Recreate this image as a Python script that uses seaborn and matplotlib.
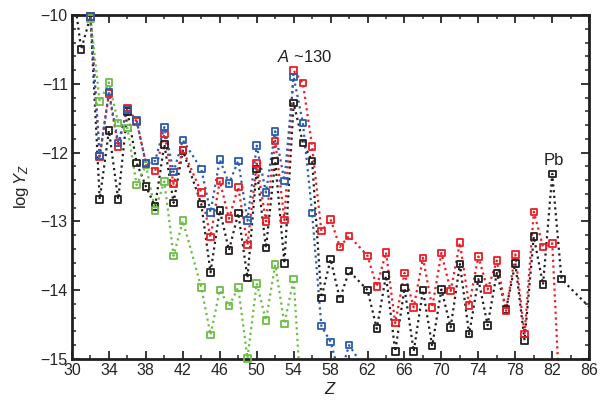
import numpy as np
import pandas as pd
import matplotlib
matplotlib.use("Agg")
import matplotlib.pyplot as plt
import seaborn as sns
from matplotlib.ticker import MultipleLocator

# ===== DONNEES =====
# Z = 43 (Tc) et Z = 61 (Pm) n'ont pas de point
z_black = [30, 31, 32, 33, 34, 35, 36, 37, 38, 39, 40, 41, 42, 44, 45, 46, 47, 48, 49, 50,
           51, 52, 53, 54, 55, 56, 57, 58, 59, 60, 62, 63, 64, 65, 66, 67, 68, 69, 70, 71,
           72, 73, 74, 75, 76, 77, 78, 79, 80, 81, 82, 83, 90]
y_black = [-9.5, -10.5, -10.02, -12.68, -11.68, -12.68, -11.40, -12.15, -12.49, -12.78,
           -11.88, -12.73, -11.97, -12.75, -13.74, -12.84, -13.42, -12.88, -13.82, -12.24,
           -13.39, -12.12, -13.61, -11.28, -11.86, -12.12, -14.11, -13.55, -14.13, -13.72,
           -14.00, -14.56, -13.79, -14.89, -13.97, -14.89, -14.00, -14.81, -13.99, -14.54,
           -13.62, -14.64, -13.84, -14.51, -13.75, -14.28, -13.61, -14.73, -13.22, -13.92,
           -12.31, -13.84, -14.78]

z_red = [32, 33, 34, 35, 36, 37, 38, 39, 40, 41, 42, 44, 45, 46, 47, 48, 49, 50, 51, 52,
         53, 54, 55, 56, 57, 58, 59, 60, 62, 63, 64, 65, 66, 67, 68, 69, 70, 71, 72, 73,
         74, 75, 76, 77, 78, 79, 80, 81, 82, 83]
y_red = [-10.02, -12.06, -11.14, -11.91, -11.35, -11.55, -12.15, -12.27, -11.73, -12.46,
         -11.96, -12.58, -13.23, -12.41, -12.96, -12.50, -13.34, -12.16, -13.00, -11.83,
         -12.98, -10.81, -10.99, -11.91, -13.14, -12.97, -13.37, -13.21, -13.50, -13.95,
         -13.45, -14.48, -13.75, -14.25, -13.53, -14.25, -13.46, -14.01, -13.31, -14.22,
         -13.51, -13.99, -13.57, -14.30, -13.48, -14.64, -12.86, -13.37, -13.32, -16.1]

z_blue = [32, 33, 34, 35, 36, 37, 38, 39, 40, 41, 42, 44, 45, 46, 47, 48, 49, 50, 51, 52,
          53, 54, 55, 56, 57, 58, 59, 60, 62]
y_blue = [-10.02, -12.05, -11.12, -11.86, -11.37, -11.53, -12.16, -12.12, -11.63, -12.28,
          -11.82, -12.24, -12.87, -12.10, -12.45, -12.12, -12.99, -11.90, -12.58, -11.69,
          -12.41, -10.90, -11.57, -12.88, -14.52, -14.75, -15.25, -14.80, -15.2]

z_green = [32, 33, 34, 35, 36, 37, 38, 39, 40, 41, 42, 44, 45, 46, 47, 48, 49, 50, 51, 52,
           53, 54, 55]
y_green = [-10.05, -11.26, -10.98, -11.57, -11.64, -12.47, -12.18, -12.84, -12.42, -13.50,
           -12.99, -13.96, -14.65, -14.00, -14.23, -13.96, -14.99, -13.90, -14.44, -13.63,
           -14.49, -13.84, -16.0]

x_ticks = list(range(30, 87, 4))
y_ticks = [-15, -14, -13, -12, -11, -10]

series = [
    ("black", z_black, y_black, "#231f20"),
    ("green", z_green, y_green, "#6cbd45"),
    ("red", z_red, y_red, "#ed1c24"),
    ("blue", z_blue, y_blue, "#2a5caa"),
]

# ===== STYLE =====
sns.set_style("ticks")
plt.rcParams['font.family'] = ['Liberation Sans', 'DejaVu Sans']
plt.rcParams['mathtext.fontset'] = 'custom'
plt.rcParams['mathtext.rm'] = 'Liberation Sans'
plt.rcParams['mathtext.it'] = 'Liberation Sans:italic'

fig = plt.figure(figsize=(6.0, 4.04), dpi=100)
ax = fig.add_axes([0.12, 0.1114, 0.862, 0.8515])

ymin, ymax = -15, -10
for name, zs, ys, col in series:
    df = pd.DataFrame({"Z": zs, "logY": ys})
    sns.lineplot(data=df, x="Z", y="logY", ax=ax, color=col, linestyle=(0, (1, 1.6)),
                 linewidth=1.6, sort=False, estimator=None)
    # marqueurs seulement dans le cadre, non coupes par les axes
    vis = df[(df["logY"] >= ymin - 0.02) & (df["logY"] <= ymax + 0.05) & (df["Z"] <= 86)]
    sns.scatterplot(data=vis, x="Z", y="logY", ax=ax, marker="s", s=22,
                    facecolor="none", edgecolor=col, linewidth=1.3, zorder=3)
    ax.collections[-1].set_clip_on(False)

ax.set_xlim(30, 86)
ax.set_ylim(ymin, ymax)
ax.set_xticks(x_ticks)
ax.set_yticks(y_ticks)
ax.set_yticklabels([f"\u2212{abs(v)}" for v in y_ticks])
ax.xaxis.set_minor_locator(MultipleLocator(2))
ax.yaxis.set_minor_locator(MultipleLocator(0.2))
ax.tick_params(which="major", direction="in", top=True, right=True, length=6, width=1.3,
               labelsize=11.5, pad=3)
ax.tick_params(which="minor", direction="in", top=True, right=True, length=3, width=1.1)
for sp in ax.spines.values():
    sp.set_linewidth(2)
    sp.set_color("#231f20")

ax.set_xlabel("$Z$", fontsize=12, labelpad=2)
ax.set_ylabel(r"log$\,Y_Z$", fontsize=12, labelpad=7)

ax.text(55.2, -10.61, r"$A$ ~130", fontsize=12, ha="center", va="center", color="#231f20")
ax.text(82.2, -12.11, "Pb", fontsize=12, ha="center", va="center", color="#231f20")

plt.savefig("out.png", dpi=100)
